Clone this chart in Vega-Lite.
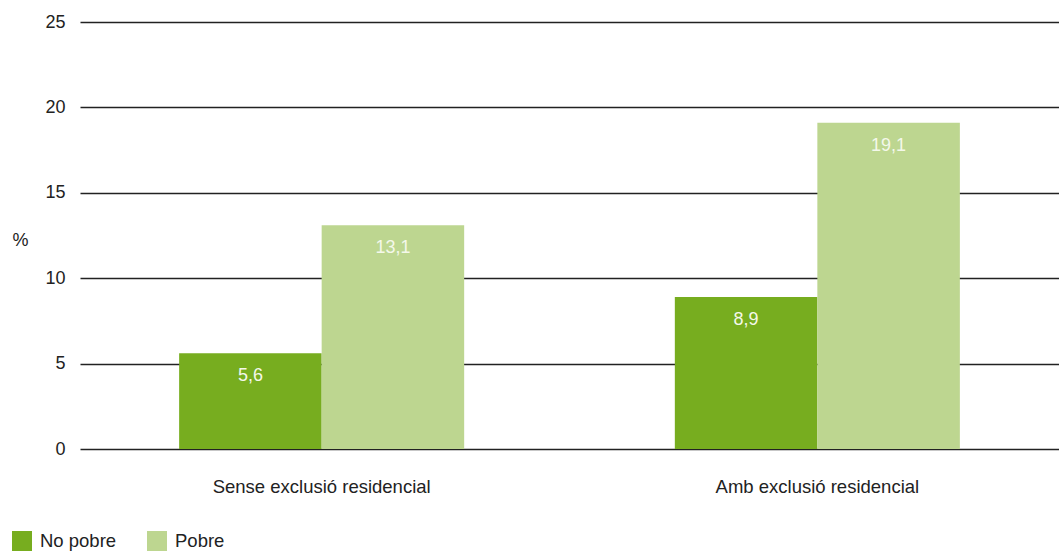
{
  "$schema": "https://vega.github.io/schema/vega-lite/v6.json",
  "width": 979,
  "height": 427,
  "autosize": {"type": "none"},
  "padding": {"left": 80, "top": 22, "right": 0, "bottom": 103},
  "config": {
    "view": {"stroke": null},
    "font": "Liberation Sans",
    "axis": {"labelFont": "Liberation Sans", "titleFont": "Liberation Sans"},
    "legend": {"labelFont": "Liberation Sans"}
  },
  "data": {
    "values": [
      {"grup": "Sense exclusió residencial", "estat": "No pobre", "valor": 5.6, "etiqueta": "5,6"},
      {"grup": "Sense exclusió residencial", "estat": "Pobre", "valor": 13.1, "etiqueta": "13,1"},
      {"grup": "Amb exclusió residencial", "estat": "No pobre", "valor": 8.9, "etiqueta": "8,9"},
      {"grup": "Amb exclusió residencial", "estat": "Pobre", "valor": 19.1, "etiqueta": "19,1"}
    ]
  },
  "encoding": {
    "x": {
      "field": "grup", "type": "nominal",
      "sort": ["Sense exclusió residencial", "Amb exclusió residencial"],
      "scale": {"paddingInner": 0.425, "paddingOuter": 0.2},
      "axis": {"title": null, "labelAngle": 0, "domain": false, "ticks": false, "labelPadding": 28, "labelFontSize": 18.5, "labelColor": "#222", "labelLimit": 0}
    },
    "xOffset": {"field": "estat", "type": "nominal", "sort": ["No pobre", "Pobre"]},
    "y": {
      "field": "valor", "type": "quantitative",
      "scale": {"domain": [0, 25]},
      "axis": {
        "values": [0, 5, 10, 15, 20, 25],
        "title": "%", "titleAngle": 0, "titleAlign": "center", "titleBaseline": "middle",
        "titleX": -60, "titleY": 218, "titleFontSize": 18, "titleFontWeight": "normal", "titleColor": "#222",
        "domain": false, "ticks": false, "labelPadding": 15, "labelFontSize": 18, "labelColor": "#222",
        "gridColor": "#222", "gridWidth": 1.3, "gridOpacity": 1
      }
    }
  },
  "layer": [
    {
      "mark": {"type": "bar"},
      "encoding": {
        "color": {
          "field": "estat", "type": "nominal",
          "scale": {"domain": ["No pobre", "Pobre"], "range": ["#77AD1F", "#BDD690"]},
          "legend": {
            "title": null, "orient": "none", "direction": "horizontal",
            "legendX": -68, "legendY": 509,
            "symbolType": "square", "symbolSize": 400, "symbolStrokeWidth": 0,
            "labelFontSize": 18.5, "labelColor": "#222", "labelOffset": 8, "columnPadding": 30, "symbolOffset": 0
          }
        }
      }
    },
    {
      "mark": {"type": "text", "baseline": "middle", "dy": 23, "fontSize": 18, "color": "#f4f8ea"},
      "encoding": {"text": {"field": "etiqueta"}}
    }
  ]
}
